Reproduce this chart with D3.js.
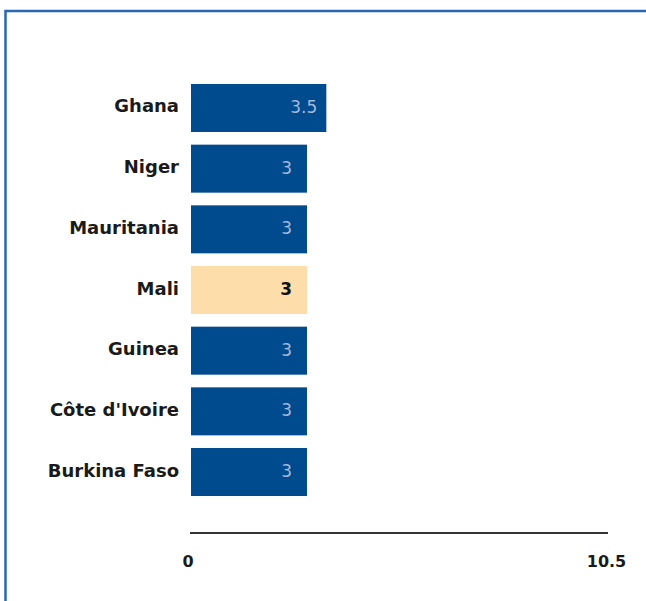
<html>
  <meta charset="utf-8" />
  <script src="https://d3js.org/d3.v7.min.js"></script>
  <style>
    body { margin: 0; background: #fff; }
  </style>
  <body>
    <div id="chart"></div>
    <script>
      // data
      const countries = ["Ghana", "Niger", "Mauritania", "Mali", "Guinea", "Côte d'Ivoire", "Burkina Faso"];
      const values = [3.5, 3, 3, 3, 3, 3, 3];
      const highlight = "Mali";
      const xTicks = [0, 10.5];

      const W = 646, H = 601;
      const font = "'DejaVu Sans', Verdana, sans-serif";

      const svg = d3.select("#chart")
        .append("svg")
        .attr("width", W)
        .attr("height", H);

      // frame (top and left edges visible)
      svg.append("path")
        .attr("d", "M5.5," + H + " V11 H" + W)
        .attr("fill", "none")
        .attr("stroke", "#2a67b1")
        .attr("stroke-width", 2.5);

      const x = d3.scaleLinear().domain([0, 10.5]).range([191, 597]);
      const y = d3.scaleBand().domain(countries).range([84, 496]).paddingInner(0.209).paddingOuter(0);

      const data = countries.map((c, i) => ({ name: c, value: values[i] }));

      // bars
      svg.append("g")
        .selectAll("rect")
        .data(data)
        .enter()
        .append("rect")
        .attr("x", x(0))
        .attr("y", d => y(d.name))
        .attr("width", d => x(d.value) - x(0))
        .attr("height", y.bandwidth())
        .attr("fill", d => d.name === highlight ? "#fddeaa" : "#004a8e");

      // value labels
      svg.append("g")
        .selectAll("text")
        .data(data)
        .enter()
        .append("text")
        .attr("x", d => x(d.value) - (Number.isInteger(d.value) ? 15 : 9))
        .attr("y", d => y(d.name) + y.bandwidth() / 2 + 5)
        .attr("text-anchor", "end")
        .attr("font-family", font)
        .attr("font-size", 17)
        .attr("font-weight", d => d.name === highlight ? "bold" : "normal")
        .attr("fill", d => d.name === highlight ? "#111" : "#a6b8d8")
        .text(d => d.value);

      // category labels
      svg.append("g")
        .selectAll("text")
        .data(countries)
        .enter()
        .append("text")
        .attr("x", 179)
        .attr("y", d => y(d) + y.bandwidth() / 2 + 4.5)
        .attr("text-anchor", "end")
        .attr("font-family", font)
        .attr("font-size", 18)
        .attr("font-weight", "bold")
        .attr("fill", "#1a1a1a")
        .text(d => d);

      // x axis
      const axis = svg.append("g")
        .attr("transform", "translate(0,533)")
        .call(d3.axisBottom(x).tickValues(xTicks).tickSize(0).tickPadding(23).tickFormat(d => d));
      axis.select(".domain").attr("stroke", "#333").attr("stroke-width", 2).attr("d", "M190,0H608");
      axis.selectAll("text")
        .attr("font-family", font)
        .attr("font-size", 16)
        .attr("font-weight", "bold")
        .attr("fill", "#1a1a1a");
      axis.selectAll(".tick text").attr("dx", (d, i) => i === 0 ? -3.5 : 9);
    </script>
  </body>
</html>
